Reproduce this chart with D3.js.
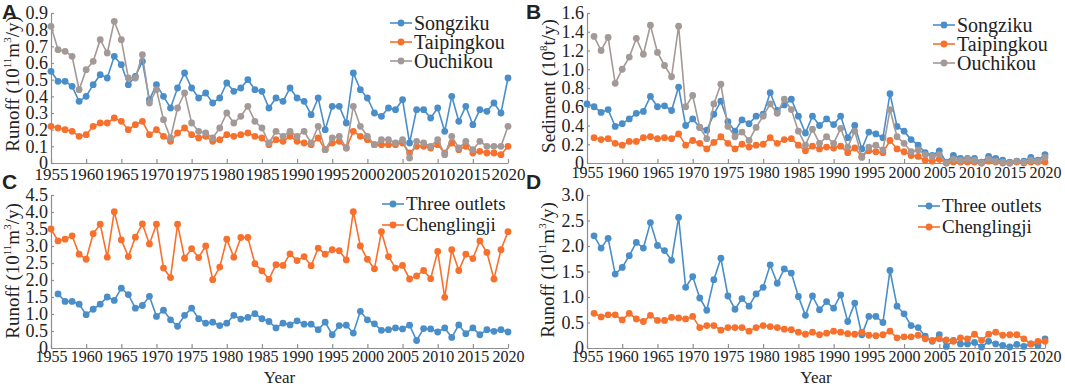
<!DOCTYPE html>
<html>
<head>
<meta charset="utf-8">
<script src="https://cdn.jsdelivr.net/npm/d3@7/dist/d3.min.js"></script>
<style>
body { margin: 0; background: #fff; }
svg text { font-family: "Liberation Serif", "Times New Roman", serif; fill: #222; }
</style>
</head>
<body>
<svg id="fig" width="1065" height="386"></svg>
<script>
// ---- data ----
const songzikuRunoff = [0.55,0.49,0.49,0.46,0.37,0.40,0.47,0.53,0.51,0.64,
  0.59,0.47,0.52,0.61,0.38,0.47,0.40,0.33,0.45,0.54,
  0.45,0.39,0.42,0.36,0.39,0.48,0.43,0.45,0.50,0.44,
  0.43,0.33,0.39,0.37,0.45,0.39,0.37,0.29,0.39,0.20,
  0.34,0.34,0.24,0.54,0.44,0.39,0.30,0.28,0.33,0.32,
  0.38,0.12,0.32,0.32,0.27,0.33,0.19,0.40,0.25,0.34,
  0.23,0.32,0.31,0.36,0.30,0.51];          // 1955-2020
const taipingkouRunoff = [0.22,0.21,0.20,0.19,0.16,0.17,0.22,0.24,0.24,0.27,
  0.25,0.20,0.23,0.25,0.17,0.20,0.16,0.13,0.18,0.21,
  0.17,0.15,0.16,0.13,0.14,0.17,0.16,0.17,0.18,0.16,
  0.15,0.11,0.14,0.13,0.16,0.13,0.12,0.11,0.15,0.08,
  0.12,0.13,0.09,0.19,0.16,0.14,0.11,0.11,0.11,0.11,
  0.12,0.06,0.10,0.10,0.09,0.11,0.06,0.12,0.08,0.10,
  0.06,0.07,0.06,0.06,0.05,0.10];          // 1955-2020
const ouchikouRunoff = [0.82,0.68,0.67,0.64,0.44,0.56,0.61,0.74,0.66,0.85,
  0.74,0.51,0.51,0.65,0.36,0.44,0.26,0.15,0.33,0.42,
  0.24,0.19,0.18,0.15,0.21,0.30,0.24,0.28,0.34,0.25,
  0.21,0.12,0.19,0.16,0.19,0.16,0.19,0.12,0.22,0.08,
  0.15,0.16,0.09,0.34,0.22,0.16,0.11,0.14,0.14,0.12,
  0.14,0.03,0.13,0.12,0.10,0.14,0.05,0.16,0.09,0.13,
  0.08,0.13,0.10,0.10,0.10,0.22];          // 1955-2020

const songzikuSed = [0.63,0.60,0.54,0.57,0.39,0.42,0.47,0.53,0.55,0.71,
  0.60,0.61,0.56,0.81,0.40,0.47,0.38,0.35,0.52,0.66,
  0.44,0.34,0.46,0.42,0.50,0.52,0.75,0.56,0.62,0.68,
  0.50,0.32,0.50,0.40,0.47,0.41,0.50,0.27,0.40,0.15,
  0.33,0.31,0.27,0.74,0.39,0.34,0.25,0.19,0.11,0.08,
  0.13,0.01,0.08,0.05,0.05,0.05,0.01,0.07,0.05,0.03,
  0.01,0.02,0.02,0.06,0.03,0.09];          // 1955-2020
const taipingkouSed = [0.27,0.25,0.26,0.21,0.19,0.23,0.23,0.27,0.28,0.26,
  0.27,0.26,0.31,0.19,0.24,0.21,0.15,0.22,0.28,0.21,
  0.15,0.20,0.17,0.19,0.20,0.27,0.21,0.25,0.26,0.19,
  0.13,0.18,0.15,0.17,0.16,0.18,0.11,0.16,0.07,0.13,
  0.12,0.11,0.24,0.15,0.12,0.08,0.07,0.03,0.02,0.04,
  0.00,0.01,0.01,0.01,0.01,0.00,0.02,0.01,0.00,0.00,
  0.01,0.00,0.01,0.01,0.01];               // 1956-2020
const ouchikouSed = [1.35,1.20,1.34,0.85,1.00,1.13,1.33,1.16,1.47,1.18,
  1.04,0.92,1.46,0.60,0.72,0.38,0.26,0.63,0.84,0.39,
  0.28,0.33,0.24,0.38,0.50,0.63,0.53,0.68,0.57,0.34,
  0.19,0.36,0.21,0.28,0.21,0.37,0.17,0.34,0.06,0.17,
  0.19,0.14,0.57,0.28,0.21,0.12,0.14,0.09,0.07,0.09,
  0.00,0.04,0.03,0.04,0.03,0.00,0.04,0.02,0.01,0.00,
  0.02,0.01,0.03,0.02,0.06];               // 1956-2020

const threeOutletsC = [1.59,1.37,1.37,1.29,0.98,1.14,1.29,1.50,1.40,1.76,
  1.57,1.17,1.25,1.52,0.93,1.11,0.83,0.64,0.96,1.17,
  0.86,0.73,0.76,0.66,0.73,0.96,0.85,0.90,1.01,0.86,
  0.78,0.59,0.73,0.68,0.80,0.70,0.70,0.54,0.76,0.39,
  0.66,0.67,0.44,1.08,0.83,0.71,0.52,0.54,0.59,0.56,
  0.67,0.22,0.57,0.56,0.47,0.59,0.31,0.68,0.42,0.59,
  0.39,0.54,0.49,0.54,0.47];               // 1956-2020
const chenglingjiC = [3.50,3.15,3.20,3.30,2.76,2.61,3.36,3.64,2.67,4.01,
  3.18,2.69,3.26,3.65,3.06,3.64,2.35,2.07,3.64,2.64,
  2.92,2.66,3.00,2.01,2.38,3.20,2.67,3.25,3.25,2.48,
  2.27,2.02,2.45,2.43,2.77,2.57,2.69,2.42,2.94,2.76,
  2.89,2.86,2.59,4.01,3.00,2.61,2.33,3.42,2.69,2.35,
  2.43,2.03,2.12,2.28,2.04,2.84,1.49,2.89,2.28,2.76,
  2.63,3.15,2.81,2.03,2.89,3.42];          // 1955-2020

const threeOutletsD = [2.20,1.96,2.15,1.45,1.58,1.81,2.07,1.96,2.46,2.01,
  1.91,1.72,2.56,1.19,1.40,0.98,0.74,1.34,1.76,1.02,
  0.76,0.97,0.82,1.06,1.19,1.63,1.27,1.55,1.47,1.01,
  0.64,1.02,0.75,0.91,0.78,1.04,0.52,0.88,0.26,0.62,
  0.62,0.50,1.52,0.82,0.67,0.44,0.40,0.23,0.13,0.26,
  0.03,0.15,0.08,0.08,0.11,0.02,0.13,0.08,0.05,0.02,
  0.07,0.03,0.08,0.05,0.18];               // 1956-2020
const chenglingjiD = [0.68,0.61,0.65,0.65,0.55,0.68,0.57,0.52,0.64,0.54,
  0.54,0.60,0.59,0.57,0.62,0.40,0.44,0.44,0.35,0.40,
  0.40,0.40,0.33,0.40,0.44,0.42,0.40,0.37,0.36,0.31,
  0.27,0.31,0.26,0.29,0.33,0.31,0.28,0.27,0.31,0.25,
  0.24,0.26,0.33,0.20,0.22,0.22,0.25,0.18,0.15,0.18,
  0.16,0.13,0.20,0.18,0.27,0.15,0.27,0.31,0.25,0.26,
  0.26,0.18,0.08,0.13,0.13];               // 1956-2020

const xTicks = d3.range(1955, 2021, 5);
const runoffLabel = [["Runoff (10",0],["11",1],["m",0],["3",1],["/y)",0]];
const sedLabel = [["Sediment (10",0],["8",1],["t/y)",0]];

const BLUE = '#4a8ec9', ORANGE = '#f7702c', GRAY = '#a39997';

class LineChart {

    constructor( config, series ) {
        this.config = config;
        this.series = series;
        this.init();
    }

    init() {
        let self = this;
        const c = self.config;

        self.g = d3.select('#fig').append('g');

        self.xscale = d3.scaleLinear()
            .domain([1955, 2020])
            .range([c.left, c.right]);

        self.yscale = d3.scaleLinear()
            .domain([0, c.ymax])
            .range([c.bottom, c.top]);

        const yticks = d3.range(0, c.ymax + c.ystep / 2, c.ystep);

        self.xaxis = d3.axisBottom(self.xscale)
            .tickValues(xTicks)
            .tickFormat(d3.format('d'))
            .tickSizeInner(-4)
            .tickSizeOuter(0)
            .tickPadding(c.xpad);

        self.yaxis = d3.axisLeft(self.yscale)
            .tickValues(yticks)
            .tickFormat(d => d === 0 ? '0' : d3.format('.1f')(d))
            .tickSizeInner(-3)
            .tickSizeOuter(0)
            .tickPadding(3);
    }

    render() {
        let self = this;
        const c = self.config;

        const xg = self.g.append('g')
            .attr('transform', `translate(0, ${c.bottom})`)
            .call(self.xaxis);
        xg.selectAll('text')
            .style('font-size', c.xfont + 'px')
            .style('font-family', '"Liberation Serif", serif')
            .attr('fill', '#222');

        const yg = self.g.append('g')
            .attr('transform', `translate(${c.left}, 0)`)
            .call(self.yaxis);
        yg.selectAll('text')
            .style('font-size', '18px')
            .style('font-family', '"Liberation Serif", serif')
            .attr('fill', '#222');

        self.g.selectAll('.domain, .tick line').attr('stroke', '#8f8f8f').attr('stroke-width', 1.2);

        const line = d3.line()
            .x(d => self.xscale(d[0]))
            .y(d => self.yscale(d[1]));

        self.series.forEach(s => {
            const pts = s.values.map((v, i) => [s.start + i, v]);
            self.g.append('path')
                .attr('d', line(pts))
                .attr('fill', 'none')
                .attr('stroke', s.color)
                .attr('stroke-width', 1.6);
            self.g.append('g').selectAll('circle')
                .data(pts)
                .join('circle')
                .attr('cx', d => self.xscale(d[0]))
                .attr('cy', d => self.yscale(d[1]))
                .attr('r', 3.4)
                .attr('fill', s.color);
        });

        // y label with superscripts (shift in px so the baseline comes back exactly)
        const yl = self.g.append('text')
            .attr('transform', `translate(${c.ylabelX}, ${c.ylabelY}) rotate(-90)`)
            .attr('text-anchor', 'middle')
            .style('font-size', '19px');
        let raised = false;
        c.ylabel.forEach(p => {
            let dy = 0;
            if (p[1] && !raised) { dy = -8; raised = true; }
            else if (!p[1] && raised) { dy = 8; raised = false; }
            yl.append('tspan')
                .attr('dy', dy)
                .style('font-size', p[1] ? '11px' : '19px')
                .text(p[0]);
        });

        // panel letter
        self.g.append('text')
            .attr('x', c.letterX)
            .attr('y', c.letterY)
            .style('font-family', '"Liberation Sans", Arial, sans-serif')
            .style('font-weight', 'bold')
            .style('font-size', '21px')
            .attr('fill', '#111')
            .text(c.letter);

        // legend
        const lg = self.g.append('g')
            .attr('transform', `translate(${c.legendX}, ${c.legendY})`);
        self.series.forEach((s, i) => {
            const row = lg.append('g').attr('transform', `translate(0, ${i * c.legendGap})`);
            row.append('line')
                .attr('x1', 0).attr('x2', 22)
                .attr('stroke', s.color).attr('stroke-width', 1.6);
            row.append('circle').attr('cx', 11).attr('r', 3.4).attr('fill', s.color);
            row.append('text')
                .attr('x', 24)
                .attr('dy', '0.33em')
                .style('font-size', c.legendFont + 'px')
                .text(s.name);
        });

        if (c.xlabel) {
            self.g.append('text')
                .attr('x', (c.left + c.right) / 2)
                .attr('y', 383)
                .attr('text-anchor', 'middle')
                .style('font-size', '17px')
                .text(c.xlabel);
        }
    }
}

const chartA = new LineChart({
    left: 51, right: 508, top: 13, bottom: 163, ymax: 0.9, ystep: 0.1,
    xfont: 17, xpad: 5, ylabel: runoffLabel, ylabelX: 19, ylabelY: 84,
    letter: 'A', letterX: 2, letterY: 19,
    legendX: 390, legendY: 23, legendGap: 19, legendFont: 20
}, [
    {name: 'Songziku', color: BLUE, start: 1955, values: songzikuRunoff},
    {name: 'Taipingkou', color: ORANGE, start: 1955, values: taipingkouRunoff},
    {name: 'Ouchikou', color: GRAY, start: 1955, values: ouchikouRunoff}
]);
chartA.render();

const chartB = new LineChart({
    left: 587, right: 1045, top: 13, bottom: 163, ymax: 1.6, ystep: 0.2,
    xfont: 16, xpad: 4, ylabel: sedLabel, ylabelX: 555, ylabelY: 86,
    letter: 'B', letterX: 526, letterY: 19,
    legendX: 933, legendY: 25, legendGap: 19, legendFont: 20
}, [
    {name: 'Songziku', color: BLUE, start: 1955, values: songzikuSed},
    {name: 'Taipingkou', color: ORANGE, start: 1956, values: taipingkouSed},
    {name: 'Ouchikou', color: GRAY, start: 1956, values: ouchikouSed}
]);
chartB.render();

const chartC = new LineChart({
    left: 51, right: 508, top: 195, bottom: 348, ymax: 4.5, ystep: 0.5,
    xfont: 16, xpad: 3, ylabel: runoffLabel, ylabelX: 19, ylabelY: 271,
    letter: 'C', letterX: 2, letterY: 189,
    legendX: 382, legendY: 204, legendGap: 21, legendFont: 19, xlabel: 'Year'
}, [
    {name: 'Three outlets', color: BLUE, start: 1956, values: threeOutletsC},
    {name: 'Chenglingji', color: ORANGE, start: 1955, values: chenglingjiC}
]);
chartC.render();

const chartD = new LineChart({
    left: 587, right: 1045, top: 195, bottom: 348, ymax: 3.0, ystep: 0.5,
    xfont: 16, xpad: 3, ylabel: runoffLabel, ylabelX: 554, ylabelY: 270,
    letter: 'D', letterX: 526, letterY: 189,
    legendX: 918, legendY: 206, legendGap: 21, legendFont: 19, xlabel: 'Year'
}, [
    {name: 'Three outlets', color: BLUE, start: 1956, values: threeOutletsD},
    {name: 'Chenglingji', color: ORANGE, start: 1956, values: chenglingjiD}
]);
chartD.render();
</script>
</body>
</html>
